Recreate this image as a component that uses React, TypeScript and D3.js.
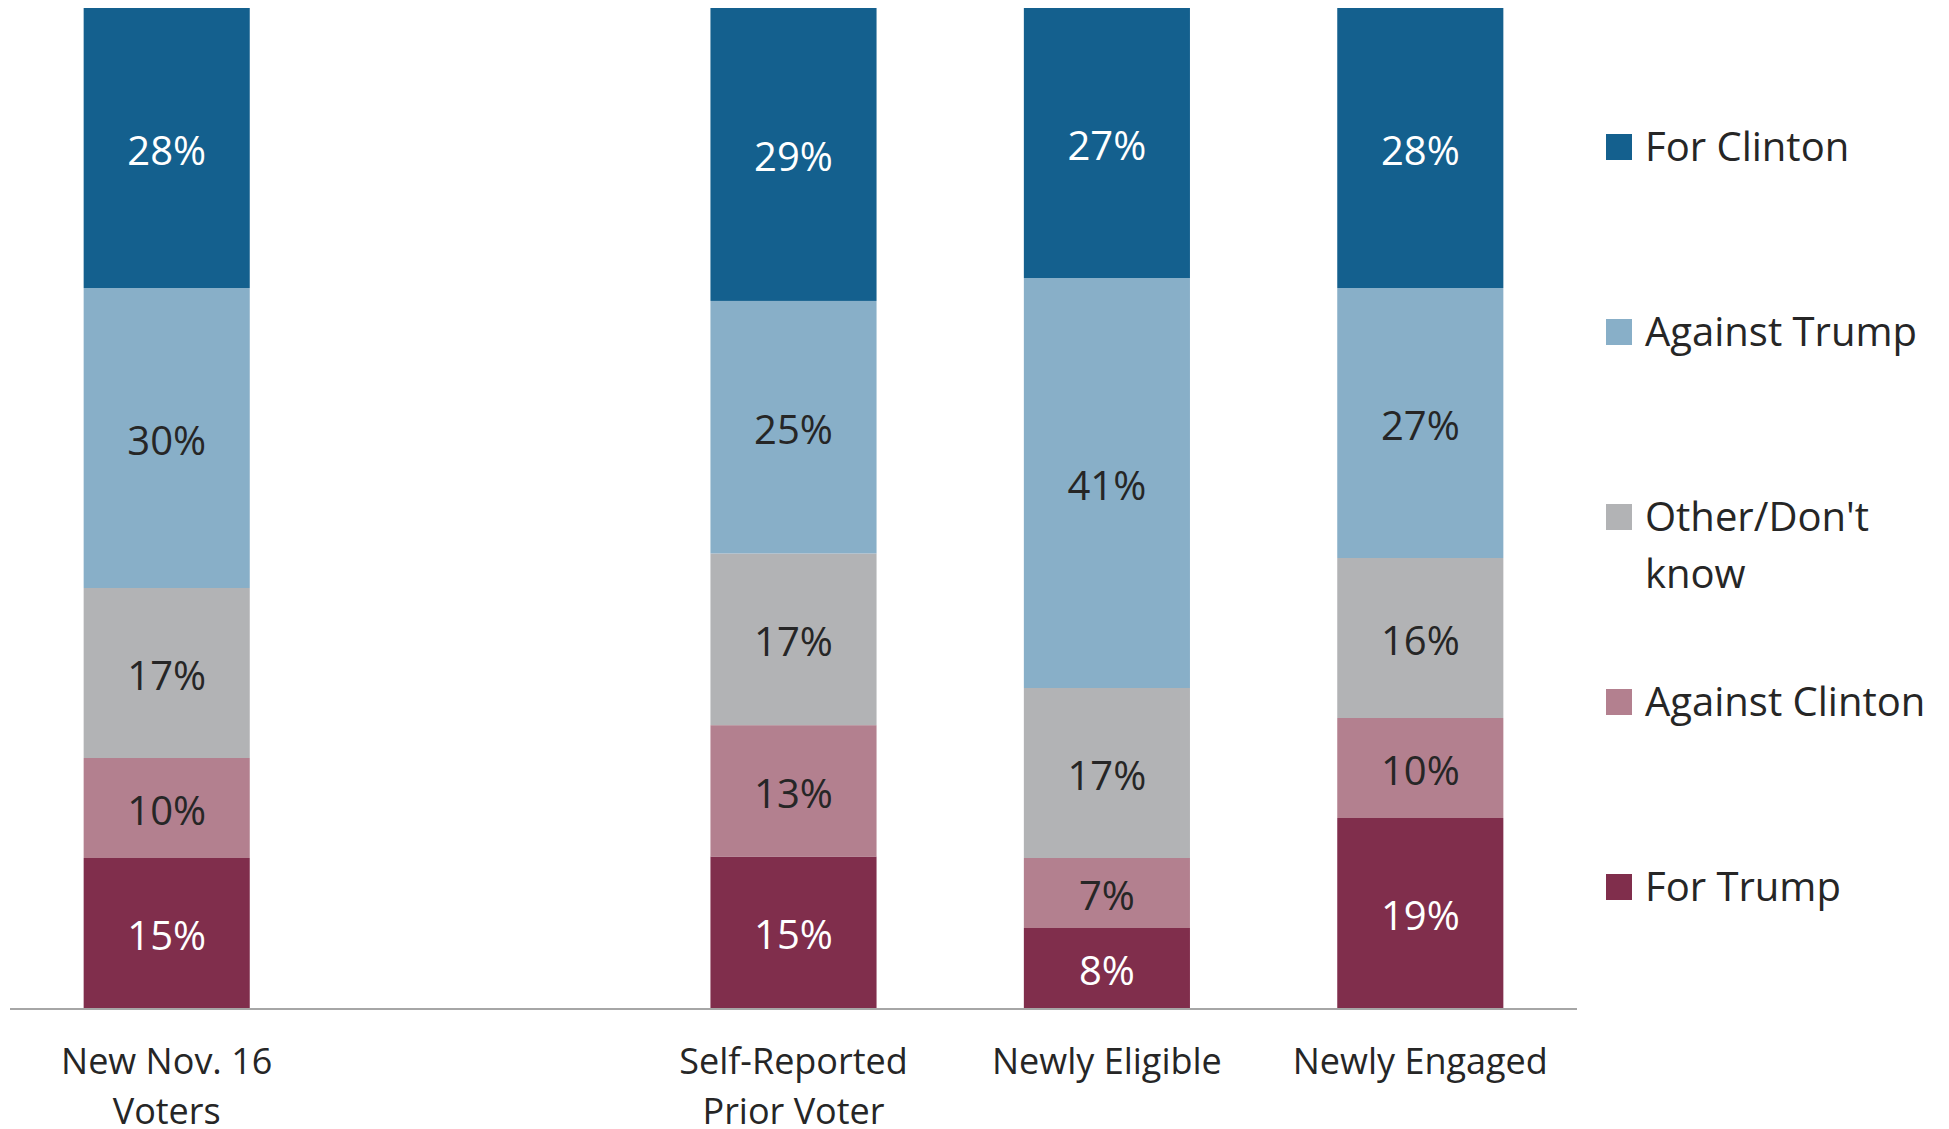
import React from "react";
import * as d3 from "d3";

const categories = ["New Nov. 16\nVoters", "", "Self-Reported\nPrior Voter", "Newly Eligible", "Newly Engaged"];
const seriesKeys = ["For Trump", "Against Clinton", "Other/Don't\nknow", "Against Trump", "For Clinton"];
const forTrump = [15, null, 15, 8, 19];
const againstClinton = [10, null, 13, 7, 10];
const otherDontKnow = [17, null, 17, 17, 16];
const againstTrump = [30, null, 25, 41, 27];
const forClinton = [28, null, 29, 27, 28];
const seriesColors = ["#802e4c", "#b3808f", "#b2b3b5", "#88afc8", "#14608e"];
const labelColors = ["#ffffff", "#262626", "#262626", "#262626", "#ffffff"];

const W = 1949;
const H = 1129;

export default function App() {
  const seriesValues = [forTrump, againstClinton, otherDontKnow, againstTrump, forClinton];
  const rows = categories
    .map((c, i) => {
      const r: any = { cat: c };
      seriesKeys.forEach((k, s) => (r[k] = seriesValues[s][i]));
      return r;
    })
    .filter((r) => r[seriesKeys[0]] != null);

  const stacked = d3.stack<any>().keys(seriesKeys).offset(d3.stackOffsetExpand)(rows);

  const x = d3.scaleBand<string>().domain(categories).range([10, 1577]).paddingInner(0.47).paddingOuter(0.235);
  const y = d3.scaleLinear().domain([0, 1]).range([1008, 8]);

  const legendY = d3.scaleLinear().domain([0, 4]).range([147, 887]);
  const font = "'Open Sans', sans-serif";

  return (
    <svg width={W} height={H} style={{ position: "absolute", left: 0, top: 0, background: "#fff" }} fontFamily={font}>
      {stacked.map((ser, si) => (
        <g key={ser.key}>
          {ser.map((d: any) => {
            const cat = d.data.cat;
            const x0 = x(cat)!;
            const y0 = y(d[1]);
            const y1 = y(d[0]);
            return (
              <g key={cat}>
                <rect x={x0} y={y0} width={x.bandwidth()} height={y1 - y0} fill={seriesColors[si]} />
                <text
                  x={x0 + x.bandwidth() / 2}
                  y={(y0 + y1) / 2}
                  dy="0.42em"
                  textAnchor="middle"
                  fontSize={40}
                  fill={labelColors[si]}
                >
                  {d.data[ser.key]}%
                </text>
              </g>
            );
          })}
        </g>
      ))}
      <line x1={10} x2={1577} y1={1009} y2={1009} stroke="#a6a6a6" strokeWidth={2} />
      {categories.map((c) =>
        c.split("\n").map((line, li) => (
          <text
            key={c + li}
            x={x(c)! + x.bandwidth() / 2}
            y={1074 + li * 50}
            textAnchor="middle"
            fontSize={36}
            fill="#262626"
          >
            {line}
          </text>
        ))
      )}
      {seriesKeys
        .slice()
        .reverse()
        .map((k, i) => {
          const si = seriesKeys.indexOf(k);
          const cy = legendY(i);
          return (
            <g key={k}>
              <rect x={1606} y={cy - 13} width={26} height={26} fill={seriesColors[si]} />
              {k.split("\n").map((line, li) => (
                <text key={li} x={1645} y={cy + 14 + li * 57} fontSize={40} fill="#262626">
                  {line}
                </text>
              ))}
            </g>
          );
        })}
    </svg>
  );
}
